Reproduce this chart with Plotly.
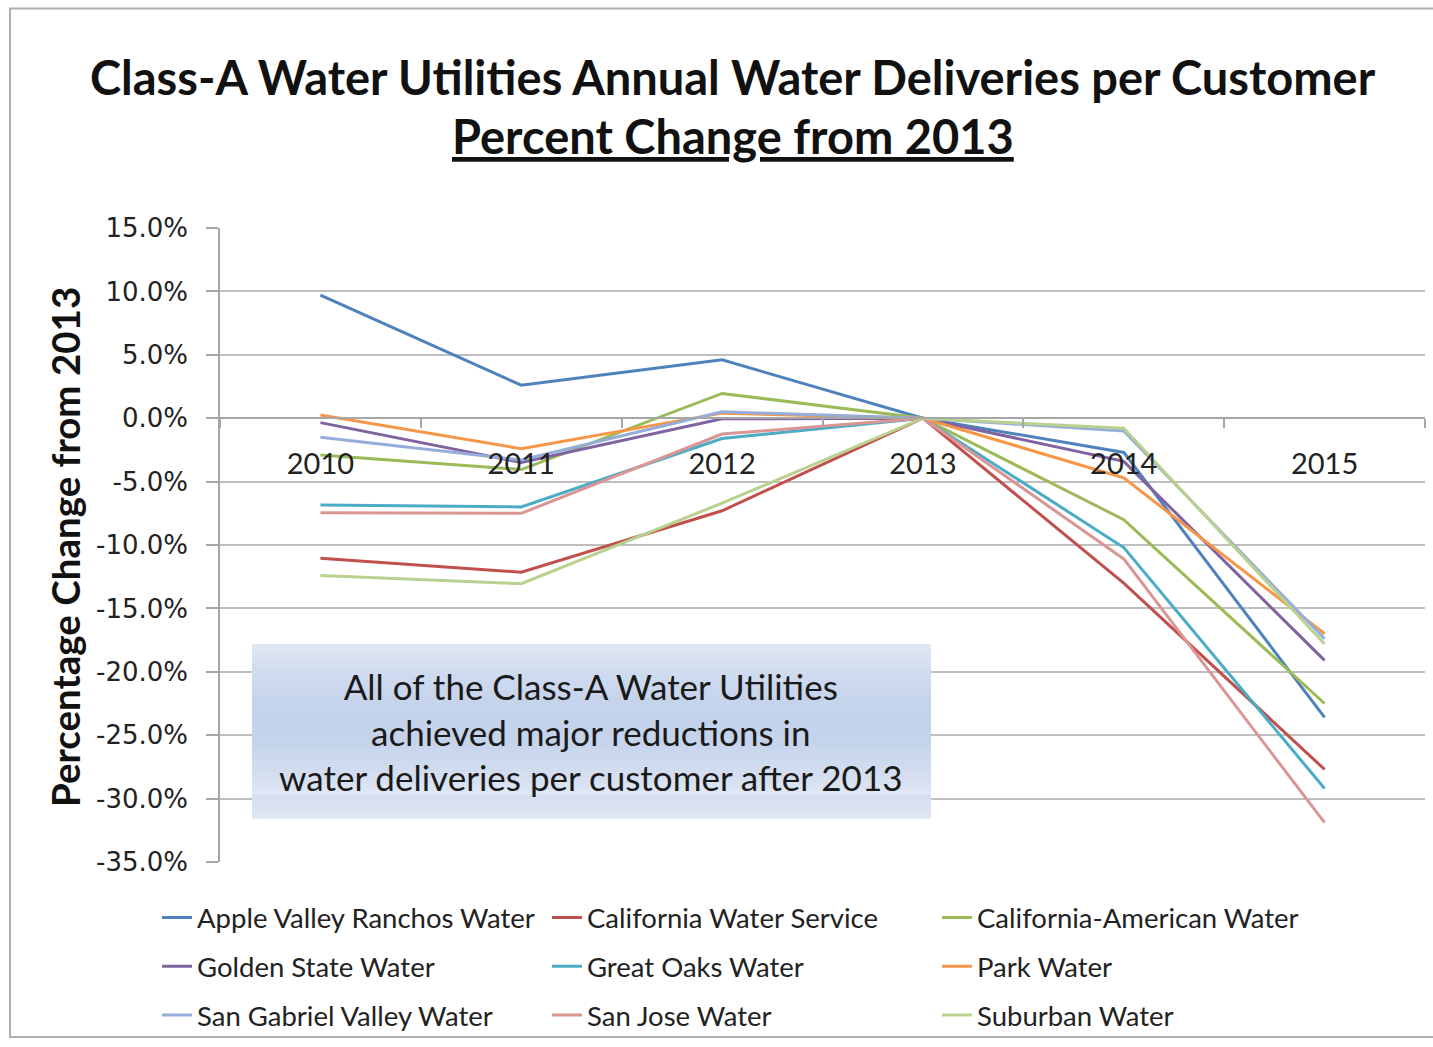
import math
import plotly.graph_objects as go

years = ["2010", "2011", "2012", "2013", "2014", "2015"]

apple_valley = [9.7, 2.6, 4.6, 0.0, -2.7, -23.6]
cal_water = [-11.05, -12.15, -7.3, 0.0, -13.0, -27.7]
cal_american = [-2.9, -4.05, 1.95, 0.0, -8.0, -22.5]
golden_state = [-0.35, -3.5, -0.05, 0.0, -3.4, -19.1]
great_oaks = [-6.85, -7.0, -1.6, 0.0, -10.2, -29.2]
park = [0.25, -2.4, 0.4, 0.0, -4.7, -17.0]
san_gabriel = [-1.5, -3.3, 0.5, 0.0, -1.0, -17.4]
san_jose = [-7.45, -7.5, -1.25, 0.0, -11.1, -31.9]
suburban = [-12.4, -13.05, -6.7, 0.0, -0.8, -17.8]

series_names = [
    "Apple Valley Ranchos Water", "California Water Service", "California-American Water",
    "Golden State Water", "Great Oaks Water", "Park Water",
    "San Gabriel Valley Water", "San Jose Water", "Suburban Water",
]
series_values = [apple_valley, cal_water, cal_american, golden_state, great_oaks,
                 park, san_gabriel, san_jose, suburban]
series_colors = ["#4F81BD", "#C0504D", "#9BBB59", "#8064A2", "#4BACC6",
                 "#F79646", "#95ADDA", "#D99694", "#B9D18E"]

y_tick_vals = [15, 10, 5, 0, -5, -10, -15, -20, -25, -30, -35]
y_tick_labels = ["15.0%", "10.0%", "5.0%", "0.0%", "-5.0%", "-10.0%", "-15.0%",
                 "-20.0%", "-25.0%", "-30.0%", "-35.0%"]

W, H = 1433, 1047
ML, MR, MT, MB = 220, 8, 228, 181
PW, PH = W - ML - MR, H - MT - MB


def px_x(px):
    return (px - ML) / PW


def px_y(py):
    return (H - MB - py) / PH


fig = go.Figure()
legend_ids = ["legend", "legend2", "legend3"]
for i, (name, vals, col) in enumerate(zip(series_names, series_values, series_colors)):
    fig.add_trace(go.Scatter(
        x=years, y=vals, name=name, mode="lines",
        line=dict(color=col, width=3),
        legend=legend_ids[i // 3],
    ))

ymin, ymax = -35, 15
zero_pos = (0 - ymin) / (ymax - ymin)

leg_common = dict(
    orientation="h", xanchor="left", yanchor="middle",
    font=dict(family="Lato", size=27.5, color="#222222"),
    entrywidth=345, entrywidthmode="pixels", bgcolor="rgba(0,0,0,0)",
    itemwidth=30,
)

shapes = []
# chart border
shapes.append(dict(type="rect", xref="paper", yref="paper",
                   x0=px_x(10), x1=px_x(1445), y0=px_y(7), y1=px_y(1042),
                   line=dict(color="#b0b0b0", width=2), fillcolor="rgba(0,0,0,0)", layer="below"))

# gradient annotation box
bx0, bx1, by0, by1 = 252, 931, 647, 822
n = 30
for k in range(n):
    t = (k + 0.5) / n
    f = math.sin(math.pi * min(t * 1.15, 1.0)) if t < 0.87 else math.sin(math.pi * t)
    c0 = (224, 231, 244)
    c1 = (196, 211, 235)
    r = int(c0[0] + (c1[0] - c0[0]) * f)
    g = int(c0[1] + (c1[1] - c0[1]) * f)
    b = int(c0[2] + (c1[2] - c0[2]) * f)
    ya = by0 + (by1 - by0) * k / n
    yb = by0 + (by1 - by0) * (k + 1) / n
    shapes.append(dict(type="rect", xref="paper", yref="paper",
                       x0=px_x(bx0), x1=px_x(bx1), y0=px_y(ya), y1=px_y(yb + 0.6),
                       line=dict(width=0), fillcolor=f"rgb({r},{g},{b})", layer="above"))

fig.update_layout(
    width=W, height=H,
    margin=dict(l=ML, r=MR, t=MT, b=MB),
    paper_bgcolor="white", plot_bgcolor="white",
    shapes=shapes,
    xaxis=dict(
        type="category", range=[-0.5, 5.5],
        anchor="free", position=zero_pos,
        showgrid=False, zeroline=False,
        showline=True, linecolor="#a6a6a6", linewidth=1.5,
        ticks="outside", ticklen=9, tickcolor="#a6a6a6", tickwidth=1.5,
        tickson="boundaries",
        tickfont=dict(family="Lato", size=29, color="#222222"),
        ticklabelstandoff=20,
    ),
    yaxis=dict(
        range=[ymin, ymax], tickvals=y_tick_vals, ticktext=y_tick_labels,
        showgrid=True, gridcolor="#bfbfbf", gridwidth=1.5,
        zeroline=False,
        showline=True, linecolor="#a6a6a6", linewidth=1.5,
        ticks="outside", ticklen=12, tickcolor="#a6a6a6", tickwidth=1.5,
        tickfont=dict(family="DejaVu Sans", size=26, color="#222222"),
        ticklabelstandoff=13,
    ),
    legend=dict(x=px_x(157), y=px_y(922), **leg_common),
    legend2=dict(x=px_x(157), y=px_y(971), **leg_common),
    legend3=dict(x=px_x(157), y=px_y(1020), **leg_common),
    annotations=[
        dict(text="<b>Class-A Water Utilities Annual Water Deliveries per Customer</b>",
             xref="paper", yref="paper", x=px_x(733), y=px_y(76),
             xanchor="center", yanchor="middle", showarrow=False,
             font=dict(family="Lato", size=47, color="#111111")),
        dict(text="<b><u>Percent Change from 2013</u></b>",
             xref="paper", yref="paper", x=px_x(733), y=px_y(135),
             xanchor="center", yanchor="middle", showarrow=False,
             font=dict(family="Lato", size=47, color="#111111")),
        dict(text="<b>Percentage Change from 2013</b>",
             xref="paper", yref="paper", x=px_x(65), y=px_y(549),
             xanchor="center", yanchor="middle", showarrow=False, textangle=-90,
             font=dict(family="Lato", size=38.5, color="#111111")),
        dict(text="All of the Class-A Water Utilities<br>achieved major reductions in<br>water deliveries per customer after 2013",
             xref="paper", yref="paper", x=px_x(591), y=px_y(735),
             xanchor="center", yanchor="middle", showarrow=False, align="center",
             font=dict(family="Lato", size=35, color="#1a1a1a")),
    ],
)

fig.write_html(
    "out.html",
    config={"displayModeBar": False},
    post_script=(
        "document.documentElement.style.margin='0';"
        "document.body.style.margin='0';"
        "document.body.style.overflow='hidden';"
        "var d=document.getElementById('{plot_id}');"
        "d.style.position='fixed';d.style.top='0px';d.style.left='0px';"
    ),
)
